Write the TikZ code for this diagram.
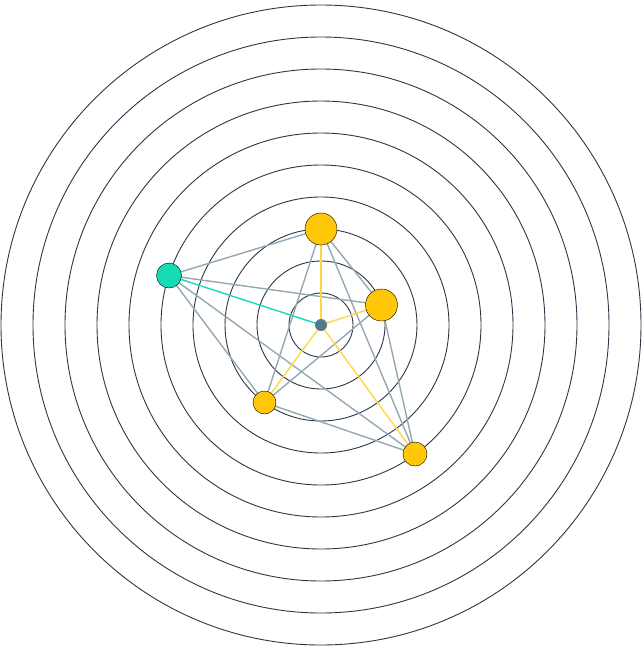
\documentclass[tikz,border=0pt]{standalone}
\usepackage{tikz}
\usetikzlibrary{calc,backgrounds}
\definecolor{ringc}{HTML}{2E3547}
\definecolor{edgec}{HTML}{94A8B2}
\definecolor{goldc}{HTML}{FFC708}
\definecolor{goldl}{HTML}{FFD54A}
\definecolor{tealc}{HTML}{17DBB4}
\definecolor{hubc}{HTML}{557A8C}
\begin{document}
\begin{tikzpicture}[x=1pt,y=-1pt]
                      \useasboundingbox (0,0) rectangle (642,646);
                      \node[circle,fill=hubc,inner sep=0pt,minimum size=12pt](h)at(321,325){};
                      \node[circle,draw,fill=goldc,inner sep=0pt,minimum size=32pt](t)at(321,229){};
                      \node[circle,draw,fill=goldc,inner sep=0pt,minimum size=32pt](r)at(381.5,305){};
                      \node[circle,draw,fill=tealc,inner sep=0pt,minimum size=25pt](q)at(169,275.5){};
                      \node[circle,draw,fill=goldc,inner sep=0pt,minimum size=23pt](l)at(264.5,402.5){};
                      \node[circle,draw,fill=goldc,inner sep=0pt,minimum size=24pt](d)at(415,454){};
                      \begin{scope}[on background layer]
                      \foreach \r in {32,64,...,320}
                        \draw[color=ringc,line width=0.9pt] (h.center) circle (\r);
                      \foreach \a/\b in {q/t,q/r,q/l,q/d,t/r,t/l,t/d,r/l,r/d,l/d}
                        \draw[color=edgec,line width=1.4pt](\a.center)--(\b.center);
                      \foreach \a in {t,r,l,d}
                        \draw[color=goldl,line width=1.4pt](h.center)--(\a.center);
                      \draw[color=tealc,line width=1.4pt](h.center)--(q.center);
                      \end{scope}
                  \end{tikzpicture}
\end{document}
